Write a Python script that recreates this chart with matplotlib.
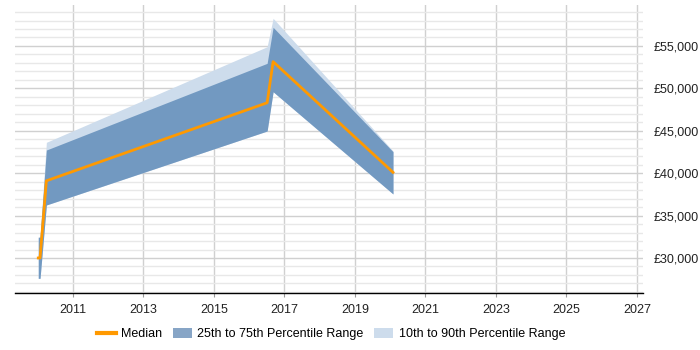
import numpy as np
import matplotlib
matplotlib.use("Agg")
import matplotlib.pyplot as plt
from matplotlib.lines import Line2D
from matplotlib.patches import Patch
from matplotlib.ticker import FuncFormatter, MultipleLocator

plt.rcParams['font.family'] = ['Liberation Sans', 'DejaVu Sans']

# data (decimal years)
years = [2010.02, 2010.07, 2010.25, 2016.51, 2016.68, 2020.08]
median = [30000, 30000, 39100, 48300, 53150, 40100]
p25 = [27600, 27600, 36250, 44970, 49600, 37550]
p75 = [32450, 32450, 42730, 52950, 57200, 42530]
p10 = [27600, 27600, 36250, 44970, 49600, 37550]
p90 = [32450, 32450, 43640, 54910, 58260, 42620]

xticks = [2011, 2013, 2015, 2017, 2019, 2021, 2023, 2025, 2027]

dark = '#7299c1'
light = '#cddcec'
orange = '#ff9900'

fig = plt.figure(figsize=(7, 3.5), dpi=100)
ax = fig.add_axes([15/700, 1 - 292.5/350, 628/700, 287.5/350])

ax.fill_between(years, p10, p90, color=light, linewidth=0, zorder=2)
ax.fill_between(years, p25, p75, color=dark, linewidth=0, zorder=3)
ax.plot(years, median, color=orange, linewidth=2, zorder=4)

ax.set_xlim(2009.36, 2027.17)
ax.set_ylim(25930, 59830)
ax.set_xticks(xticks)
ax.set_xticklabels([str(y) for y in xticks])
ax.yaxis.set_major_locator(MultipleLocator(5000))
ax.yaxis.set_minor_locator(MultipleLocator(1000))
ax.yaxis.set_major_formatter(FuncFormatter(lambda v, p: '£{:,.0f}'.format(v)))
ax.yaxis.tick_right()

ax.grid(axis='y', which='minor', color='#e8e8e8', linewidth=1, zorder=0)
ax.grid(axis='y', which='major', color='#d0d0d0', linewidth=1, zorder=0)
ax.grid(axis='x', which='major', color='#d0d0d0', linewidth=1, zorder=0)
ax.set_axisbelow(True)

for s in ['top', 'right', 'left']:
    ax.spines[s].set_visible(False)
ax.spines['bottom'].set_color('black')
ax.spines['bottom'].set_linewidth(1)

ax.tick_params(axis='y', which='both', length=0, pad=8, labelsize=9, labelcolor='#222222')
ax.tick_params(axis='x', length=3, color='#999999', pad=5, labelsize=9, labelcolor='#222222')

handles = [
    Line2D([0], [0], color=orange, linewidth=3),
    Patch(facecolor='#87a5c6', edgecolor='none'),
    Patch(facecolor=light, edgecolor='none'),
]
labels = ['Median', '25th to 75th Percentile Range', '10th to 90th Percentile Range']
fig.legend(handles, labels, loc='center', bbox_to_anchor=(331/700, 1 - 334/350),
           ncol=3, frameon=False, fontsize=9, handlelength=1.5, handleheight=0.9,
           columnspacing=0.85, handletextpad=0.45)

fig.savefig('out.png', dpi=100)
